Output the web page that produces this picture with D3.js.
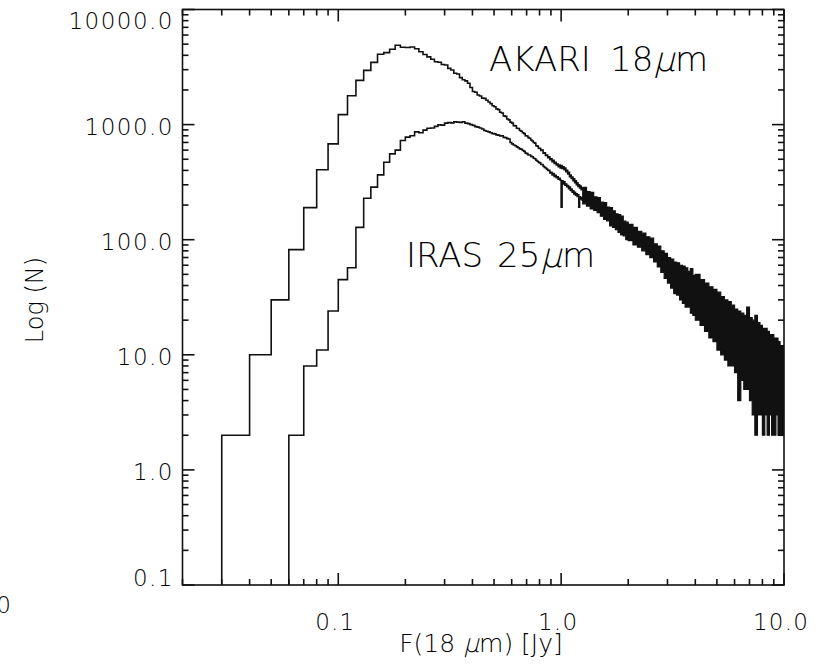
<!DOCTYPE html>
<html><head><meta charset="utf-8">
<script src="https://cdn.jsdelivr.net/npm/d3@7"></script>
<style>
html,body{margin:0;padding:0;background:#fff;}
svg{display:block;}
text{font-family:"DejaVu Sans","Liberation Sans",sans-serif;font-weight:200;fill:#000;white-space:pre;}
</style></head><body>
<svg id="chart" width="829" height="668"></svg>
<script>
// ---------- data ----------
const binWidth = 0.01;            // Jy, histogram bin width
const akariStart = 0.03;          // first AKARI bin (Jy)
const akariCounts = [
  2,10,30,82,190,405,680,1220,1780,2420,2960,3470,4080,4220,4510,4890,4700,4680,4720,4560,
  4300,4060,3880,3700,3520,3480,3330,3290,3080,2980,2790,2750,2560,2450,2400,2290,2100,1940,1910,1810,
  1770,1700,1690,1630,1570,1520,1460,1430,1370,1350,1280,1260,1190,1180,1120,1100,1050,1030,980,975,
  930,925,890,875,850,835,800,795,770,760,735,720,700,690,655,650,625,620,595,600,
  565,570,540,545,515,525,495,505,475,490,460,470,445,455,430,445,420,440,415,430,
  405,420,390,400,372,385,352,365,340,350,325,338,312,325,300,312,290,300,282,292,
  272,283
];
const irasStart = 0.06;           // first IRAS bin (Jy)
const irasCounts = [
  2,8,11,24,45,57,128,229,286,366,471,557,600,728,779,800,865,850,895,930,
  935,965,995,990,1030,1040,1035,1055,1050,1045,1060,1030,1020,1000,985,960,950,935,915,890,
  875,865,850,835,830,815,810,795,800,775,770,755,750,700,680,665,655,640,630,615,
  610,595,585,565,560,545,545,530,525,510,505,490,480,470,465,450,450,435,425,420,
  410,400,400,380,385,365,375,355,362,345,352,336,342,328,192,325,305,318,298,305,
  288,296,278,286,268,276,258,266,250,258,244,250,238,246,192,236,226,232,222
];
// noisy overlapping tail of both histograms (F > 1.25 Jy): upper / lower envelope
const tailFlux = [1.25,1.30,1.35,1.40,1.45,1.50,1.55,1.60,1.65,1.70,1.75,1.80,1.85,1.90,1.95,2.00,
  2.1,2.2,2.3,2.4,2.5,2.6,2.7,2.8,2.9,3.0,3.1,3.2,3.3,3.4,3.5,3.6,3.7,3.8,3.9,4.0,
  4.2,4.4,4.6,4.8,5.0,5.2,5.4,5.6,5.8,6.0,6.2,6.4,6.6,6.8,7.0,7.2,7.4,7.6,7.8,8.0,
  8.2,8.4,8.6,8.8,9.0,9.2,9.4,9.6,9.8,10.0];
const tailUpper = [285,262,258,236,232,212,210,192,190,178,168,165,160,145,142,136,
  128,118,114,106,103,92,88,80,76,70,68,64,63,60,59,57,53,56,49,50,
  45,42,39,37,35,32,30,29,27,25,24,23,22,26,21,20,22,19,18,17,
  17,16,15,15,14,14,13,12,12,11];
const tailLower = [205,196,185,180,172,160,150,146,132,128,122,116,110,108,100,98,
  90,86,80,74,70,64,58,52,46,42,38,34,33,30,28,26,26,23,22,20,
  18,16,14,13,11,10,9,8,8,7,4,6,5,5,4,3,2,3,3,2,
  3,2,3,2,2,3,2,2,2,2];

const xTickValues = [0.1, 1, 10];
const xTickLabels = ["0.1", "1.0", "10.0"];
const yTickValues = [0.1, 1, 10, 100, 1000, 10000];
const yTickLabels = ["0.1", "1.0", "10.0", "100.0", "1000.0", "10000.0"];
const seriesNames = ["AKARI", "IRAS"];
const seriesBands = ["18", "25"];

// ---------- layout ----------
const svg = d3.select("#chart");
const L = 182.5, R = 784, T = 9.5, B = 585;
const x = d3.scaleLog().domain([0.02, 10]).range([L, R]);
const y = d3.scaleLog().domain([0.1, 10000]).range([B, T]);
const ink = "#111";

svg.append("clipPath").attr("id","clip").append("rect")
  .attr("x", L).attr("y", T).attr("width", R - L).attr("height", B - T);

function histPoints(start, counts) {
  const s = Math.round(start / binWidth);
  const pts = [[x(s * binWidth), B]];
  counts.forEach((c, i) => {
    const e0 = (s + i) * binWidth, e1 = (s + i + 1) * binWidth;
    pts.push([x(e0), y(c)], [x(e1), y(c)]);
  });
  return pts;
}
const line = d3.line();
const g = svg.append("g").attr("clip-path", "url(#clip)");

// tail band
const tail = tailFlux.map((f, i) => ({f, hi: tailUpper[i], lo: tailLower[i]}));
g.append("path")
  .attr("d", d3.area().x(d => x(d.f)).y0(d => y(d.lo)).y1(d => y(d.hi)).curve(d3.curveStepAfter)(tail))
  .attr("fill", ink).attr("stroke", ink).attr("stroke-width", 1.2);

[[akariStart, akariCounts], [irasStart, irasCounts]].forEach(([s, c]) => {
  g.append("path").attr("d", line(histPoints(s, c)))
    .attr("fill", "none").attr("stroke", ink).attr("stroke-width", 1.6);
});

// frame
svg.append("rect").attr("x", L).attr("y", T).attr("width", R - L).attr("height", B - T)
  .attr("fill", "none").attr("stroke", ink).attr("stroke-width", 1.6);

// ticks
const isMajor = v => Math.abs(Math.log10(v) - Math.round(Math.log10(v))) < 1e-6;
const tk = svg.append("g").attr("stroke", ink).attr("stroke-width", 1.6);
x.ticks().forEach(v => {
  const len = isMajor(v) ? 12 : 6, px = x(v);
  tk.append("line").attr("x1", px).attr("x2", px).attr("y1", B).attr("y2", B - len);
  tk.append("line").attr("x1", px).attr("x2", px).attr("y1", T).attr("y2", T + len);
});
y.ticks().forEach(v => {
  const len = isMajor(v) ? 12 : 6, py = y(v);
  tk.append("line").attr("x1", L).attr("x2", L + len).attr("y1", py).attr("y2", py);
  tk.append("line").attr("x1", R).attr("x2", R - len).attr("y1", py).attr("y2", py);
});

// tick labels
const tickFont = 23;
xTickValues.forEach((v, i) => {
  svg.append("text").attr("x", x(v) - 3).attr("y", 629.5).attr("text-anchor", "middle")
    .attr("font-size", tickFont).attr("letter-spacing", 1.2).text(xTickLabels[i]);
});
yTickValues.forEach((v, i) => {
  const cy = Math.max(20, Math.min(577, y(v) + 1.5));
  svg.append("text").attr("x", 174).attr("y", cy + 8.5).attr("text-anchor", "end")
    .attr("font-size", tickFont).attr("letter-spacing", 1.5).text(yTickLabels[i]);
});
// clipped label fragment at the far left
svg.append("text").attr("x", 11).attr("y", 613).attr("text-anchor", "end")
  .attr("font-size", tickFont).text("0");

// text run with a slanted (italic-like) mu, built piece by piece
function measure(str, size) {
  const t = svg.append("text").attr("font-size", size).attr("x", -9999).text(str);
  const w = t.node().getComputedTextLength();
  t.remove();
  return w;
}
function runText(parent, pieces, x0, base, size) {
  const gr = parent.append("g").attr("transform", `translate(${x0},${base})`);
  let cx = 0;
  pieces.forEach(p => {
    const t = gr.append("text").attr("font-size", size).text(p.s);
    if (p.slant) t.attr("transform", `translate(${cx},0) skewX(-14)`);
    else t.attr("x", cx);
    cx += measure(p.s, size);
  });
  return cx;
}

// axis titles
svg.append("text").attr("transform", "translate(43,300) rotate(-90)").attr("text-anchor", "middle")
  .attr("font-size", 24).text("Log (N)");
const titlePieces = [{s: "F(18 "}, {s: "μ", slant: true}, {s: "m) [Jy]"}];
const titleW = titlePieces.reduce((a, p) => a + measure(p.s, 25), 0);
runText(svg, titlePieces, 481 - titleW / 2, 652, 25);

// series labels
function seriesLabel(i, x0, x1, base) {
  svg.append("text").attr("x", x0).attr("y", base).attr("font-size", 34).text(seriesNames[i]);
  runText(svg, [{s: seriesBands[i]}, {s: "μ", slant: true}, {s: "m"}], x1, base, 34);
}
seriesLabel(0, 489, 610, 71);
seriesLabel(1, 406, 497, 267);
</script>
</body></html>
